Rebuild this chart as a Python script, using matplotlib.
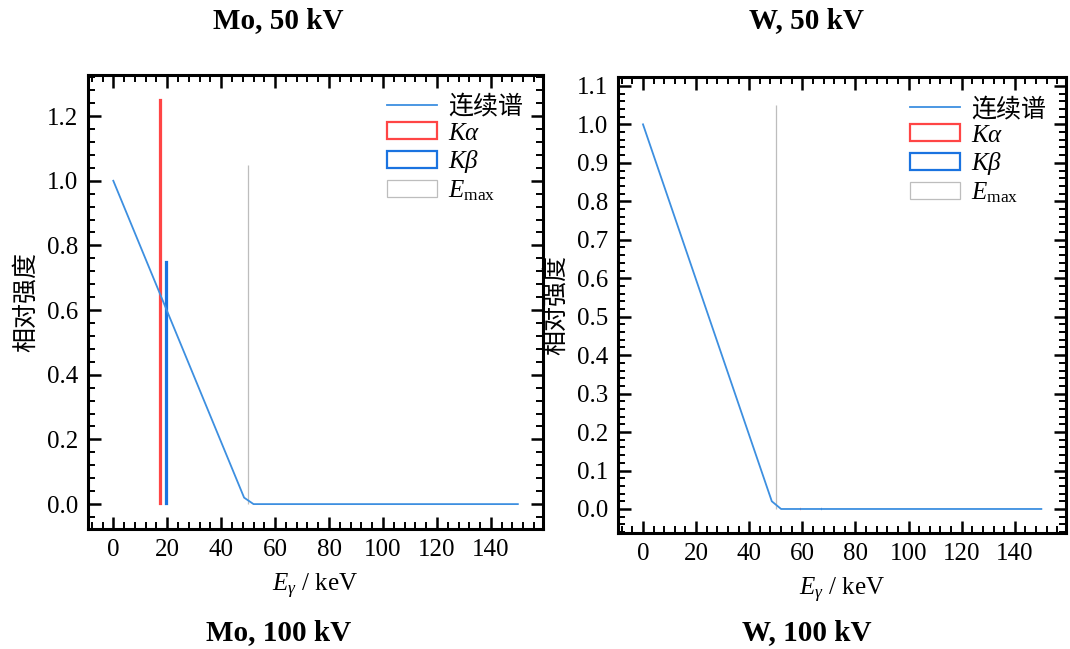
import matplotlib
matplotlib.use("Agg")
import matplotlib.pyplot as plt
from matplotlib.ticker import AutoMinorLocator, MultipleLocator, FormatStrFormatter

# ---- data -------------------------------------------------------------
# continuous (bremsstrahlung) spectrum breakpoints, keV / relative intensity
cont_E = [0.0, 48.5, 52.0, 150.0]
cont_I = [1.0, 0.02, 0.0, 0.0]

# characteristic lines (keV, relative intensity)
mo_lines_E = {"Ka": 17.5, "Kb": 19.6}
mo_lines_I = {"Ka": 1.25, "Kb": 0.75}
w_lines_E = {"Ka": 59.3, "Kb": 67.2}
w_lines_I = {"Ka": 0.0, "Kb": 0.0}   # not excited at 50 kV

tube_kV = 50.0
emax_height = 1.05

panel_titles_top = ["Mo, 50 kV", "W, 50 kV"]
panel_titles_bottom = ["Mo, 100 kV", "W, 100 kV"]
ylabel_text = "相对强度"
xlabel_text = r"$E_\gamma$ / keV"
legend_labels = ["连续谱", r"$K\alpha$", r"$K\beta$", r"$E_{\mathrm{max}}$"]

# ---- style ------------------------------------------------------------
plt.rcParams["font.family"] = ["Liberation Serif", "Noto Sans CJK SC", "DejaVu Sans"]
plt.rcParams["mathtext.fontset"] = "custom"
plt.rcParams["mathtext.rm"] = "Liberation Serif"
plt.rcParams["mathtext.it"] = "Liberation Serif:italic"
plt.rcParams["mathtext.bf"] = "Liberation Serif:bold"

c_cont = "#3d8fe0"
c_ka = "#ff4545"
c_kb = "#1a73e0"
c_emax = "#bdbdbd"
FS = 18

fig = plt.figure(figsize=(10.70, 6.49), dpi=100)
ax_mo = fig.add_axes([0.0822, 0.1849, 0.4252, 0.6995])
ax_w = fig.add_axes([0.5776, 0.1787, 0.4187, 0.7026])


def draw_panel(ax, lines_E, lines_I, ylim, ystep):
    ax.bar([lines_E["Ka"]], [lines_I["Ka"]], width=0.45, fill=False,
           edgecolor=c_ka, linewidth=1.6, label=legend_labels[1], zorder=2)
    ax.bar([lines_E["Kb"]], [lines_I["Kb"]], width=0.45, fill=False,
           edgecolor=c_kb, linewidth=1.6, label=legend_labels[2], zorder=2)
    ax.bar([tube_kV], [emax_height], width=0.15, fill=False,
           edgecolor=c_emax, linewidth=0.9, label=legend_labels[3], zorder=2)
    ax.plot(cont_E, cont_I, color=c_cont, linewidth=1.3,
            label=legend_labels[0], zorder=3)

    ax.set_xlim(-9.4, 159.3)
    ax.set_ylim(*ylim)
    ax.xaxis.set_major_locator(MultipleLocator(20))
    ax.yaxis.set_major_locator(MultipleLocator(ystep))
    ax.xaxis.set_minor_locator(AutoMinorLocator(5))
    ax.yaxis.set_minor_locator(AutoMinorLocator(5))
    ax.yaxis.set_major_formatter(FormatStrFormatter("%.1f"))
    ax.tick_params(which="both", direction="in", top=True, right=True,
                   labelsize=FS)
    ax.tick_params(which="major", length=9, width=1.8, pad=7)
    ax.tick_params(which="minor", length=5, width=1.4)
    for sp in ax.spines.values():
        sp.set_linewidth(2.2)

    ax.set_xlabel(xlabel_text, fontsize=FS, labelpad=8)
    ax.set_ylabel(ylabel_text, fontsize=FS, family="Noto Sans CJK SC",
                  labelpad=6)

    handles, labels = ax.get_legend_handles_labels()
    order = [labels.index(l) for l in legend_labels]
    ax.legend([handles[i] for i in order], [labels[i] for i in order],
              loc="upper right", frameon=False, fontsize=FS,
              handlelength=2.0, handleheight=0.65, labelspacing=0.14,
              handletextpad=0.45, borderaxespad=0.4)


draw_panel(ax_mo, mo_lines_E, mo_lines_I, (-0.077, 1.327), 0.2)
draw_panel(ax_w, w_lines_E, w_lines_I, (-0.0625, 1.123), 0.1)

title_kw = dict(fontsize=21, fontweight="bold", ha="center", va="center")
fig.text(0.260, 0.969, panel_titles_top[0], **title_kw)
fig.text(0.754, 0.969, panel_titles_top[1], **title_kw)
fig.text(0.260, 0.026, panel_titles_bottom[0], **title_kw)
fig.text(0.754, 0.026, panel_titles_bottom[1], **title_kw)

fig.savefig("out.png", dpi=100)
